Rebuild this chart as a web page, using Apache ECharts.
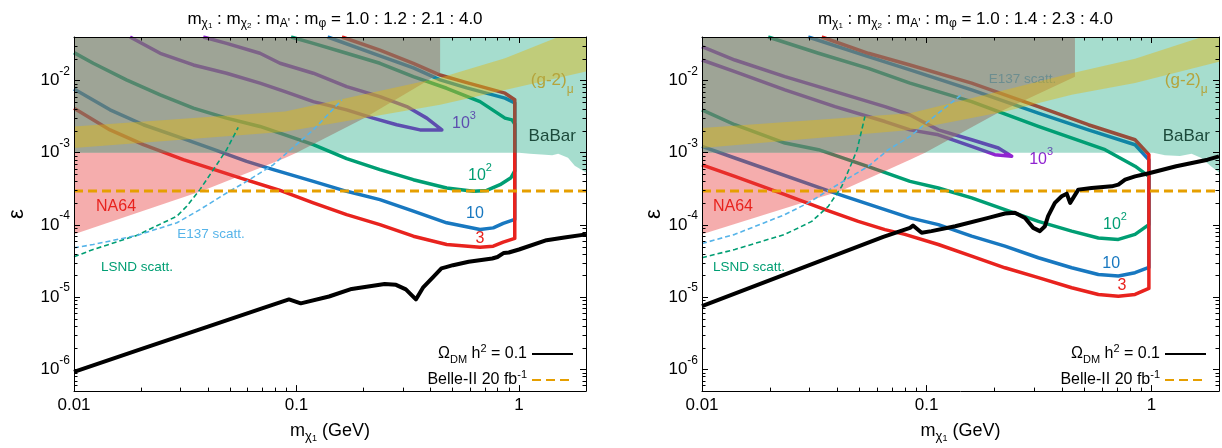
<!DOCTYPE html>
<html>
<head>
<meta charset="utf-8">
<script src="https://cdn.jsdelivr.net/npm/echarts@6.0.0/dist/echarts.min.js"></script>
<style>
html,body{margin:0;padding:0;background:#fff;}
#chart{width:1222px;height:448px;}
</style>
</head>
<body>
<div id="chart"></div>
<script>
// ================= DATA =================
const X_RANGE = [0.01, 2];
const Y_RANGE = [5e-7, 4e-2];
const X_MINOR_TICKS = [0.02,0.03,0.04,0.05,0.06,0.07,0.08,0.09,0.2,0.3,0.4,0.5,0.6,0.7,0.8,0.9];
const Y_MINOR_TICKS = [6e-7,7e-7,8e-7,9e-7,
  2e-6,3e-6,4e-6,5e-6,6e-6,7e-6,8e-6,9e-6,
  2e-5,3e-5,4e-5,5e-5,6e-5,7e-5,8e-5,9e-5,
  2e-4,3e-4,4e-4,5e-4,6e-4,7e-4,8e-4,9e-4,
  2e-3,3e-3,4e-3,5e-3,6e-3,7e-3,8e-3,9e-3,
  2e-2,3e-2];
const MASS_RATIOS = ['1.0 : 1.2 : 2.1 : 4.0', '1.0 : 1.4 : 2.3 : 4.0'];
const BELLE_II = [[0.01, 2.95e-4], [2, 2.95e-4]];
const BABAR_FLOOR = 1e-3;

// ---------- left panel ----------
const L_RELIC = [[0.01,9.2e-7],[0.02,1.9e-6],[0.04,3.9e-6],[0.07,7.0e-6],[0.0925,9.3e-6],[0.1045,8.2e-6],
  [0.14,1.02e-5],[0.177,1.3e-5],[0.249,1.52e-5],[0.28,1.48e-5],[0.31,1.28e-5],[0.344,9.3e-6],[0.37,1.35e-5],
  [0.413,1.92e-5],[0.448,2.5e-5],[0.47,2.6e-5],[0.505,2.77e-5],[0.594,3.09e-5],[0.758,3.43e-5],[0.8,3.6e-5],
  [0.855,4.1e-5],[0.9,4.15e-5],[1.0,4.57e-5],[1.33,6.15e-5],[1.6,6.7e-5],[2.0,7.4e-5]];
const L_C3 = [[0.01,4.14e-3],[0.01452,2.07e-3],[0.0205,1.29e-3],[0.031,8.0e-4],[0.0557,4.47e-4],[0.0844,3.0e-4],
  [0.119,2.02e-4],[0.168,1.39e-4],[0.237,1.01e-4],[0.335,6.98e-5],[0.473,5.36e-5],[0.668,4.92e-5],[0.766,5.08e-5],
  [0.849,5.77e-5],[0.957,6.5e-5],[0.957,5.4e-3],[0.865,6.67e-3],[0.582,9.35e-3],[0.442,1.19e-2],[0.335,1.73e-2],
  [0.237,2.64e-2],[0.16,4e-2]];
const L_C10 = [[0.01,7.6e-3],[0.01452,3.92e-3],[0.0205,2.44e-3],[0.029,1.68e-3],[0.0409,1.16e-3],[0.0597,7.6e-4],
  [0.0787,5.82e-4],[0.119,4.01e-4],[0.168,2.92e-4],[0.237,2.24e-4],[0.335,1.55e-4],[0.473,1.07e-4],[0.668,8.64e-5],
  [0.766,9.1e-5],[0.849,1.05e-4],[0.957,1.19e-4],[0.957,4.9e-3],[0.865,5.7e-3],[0.582,7.9e-3],[0.442,1.02e-2],
  [0.335,1.49e-2],[0.237,2.19e-2],[0.138,4e-2]];
const L_C100 = [[0.01,2.43e-2],[0.0122,1.73e-2],[0.0172,1.02e-2],[0.0244,6.32e-3],[0.0344,4.14e-3],[0.0485,3.01e-3],
  [0.0685,2.31e-3],[0.0888,1.77e-3],[0.119,1.29e-3],[0.168,8.26e-4],[0.237,5.82e-4],[0.335,4.23e-4],[0.473,3.25e-4],
  [0.624,2.92e-4],[0.716,3.0e-4],[0.822,3.61e-4],[0.92,4.5e-4],[0.957,5.6e-4],[0.957,2.5e-3],[0.93,2.85e-3],
  [0.865,3.01e-3],[0.668,5.1e-3],[0.473,7.8e-3],[0.335,1.13e-2],[0.237,1.73e-2],[0.168,2.38e-2],[0.119,3.27e-2],
  [0.0945,4e-2]];
const L_C1000 = [[0.01786,4e-2],[0.0244,2.38e-2],[0.0344,1.64e-2],[0.0485,1.26e-2],[0.0685,9.2e-3],[0.0888,7.0e-3],
  [0.119,5.1e-3],[0.168,3.92e-3],[0.221,3.01e-3],[0.282,2.44e-3],[0.359,2.07e-3],[0.45,2.07e-3],[0.385,3.01e-3],
  [0.313,4.35e-3],[0.237,5.98e-3],[0.168,8.24e-3],[0.119,1.26e-2],[0.0843,1.73e-2],[0.0685,2.38e-2],[0.0485,3.27e-2],
  [0.0381,4e-2]];
const L_E137 = [[0.01,4.82e-5],[0.0122,5.36e-5],[0.0191,7.14e-5],[0.029,1.07e-4],[0.0368,1.63e-4],[0.0485,2.77e-4],
  [0.0597,4.01e-4],[0.0787,6.82e-4],[0.0904,9.9e-4],[0.119,2.07e-3],[0.16,5.4e-3]];
const L_LSND = [[0.01,3.62e-5],[0.0122,4.57e-5],[0.0191,7.14e-5],[0.029,1.32e-4],[0.0321,1.81e-4],[0.0368,3.08e-4],
  [0.0423,5.82e-4],[0.0485,1.1e-3],[0.0547,2.24e-3]];
const L_NA64 = [[0.01,7.4e-5],[0.0381,2.99e-4],[0.0888,8.45e-4],[0.1,1e-3],[0.203,3.04e-3],[0.442,1.26e-2],[0.442,4e-2]];
const L_BABAR = [[0.01,1e-3],[1.0,1e-3],[1.12,9.7e-4],[1.31,9.4e-4],[1.41,9.2e-4],[1.5,9.7e-4],[1.66,8.5e-4],
  [1.78,6.6e-4],[2.0,5.3e-4]];
const L_G2_UP = [[0.01,2.31e-3],[0.0888,3.72e-3],[0.442,1.09e-2],[0.865,2.03e-2],[1.5,4e-2],[2.0,5.3e-2]];
const L_G2_LO = [[0.01,1.16e-3],[0.0888,1.95e-3],[0.442,4.6e-3],[0.865,7.4e-3],[2.0,1.33e-2]];
const L_LABELS = [
  ['10^3',[0.566,2.5e-3]],['10^2',[0.668,4.8e-4]],['10',[0.634,1.44e-4]],['3',[0.668,6.5e-5]],
  ['NA64',[0.01545,1.77e-4]],['E137 scatt.',[0.0413,7.4e-5]],['LSND scatt.',[0.0192,2.62e-5]],
  ['(g-2)',[1.41,9.9e-3]],['BaBar',[1.41,1.66e-3]]];

// ---------- right panel ----------
const R_RELIC = [[0.01,7.5e-6],[0.0641,6.84e-5],[0.0843,9.1e-5],[0.0869,9.8e-5],[0.095,7.8e-5],[0.105,8.2e-5],
  [0.134,9.6e-5],[0.188,1.25e-4],[0.223,1.44e-4],[0.247,1.47e-4],[0.274,1.25e-4],[0.298,9.1e-5],[0.319,8.2e-5],
  [0.336,9.6e-5],[0.347,1.32e-4],[0.372,2.02e-4],[0.399,2.49e-4],[0.42,2.71e-4],[0.435,2.02e-4],[0.449,2.37e-4],
  [0.473,3.08e-4],[0.542,3.25e-4],[0.666,3.42e-4],[0.713,3.61e-4],[0.764,4.23e-4],[0.846,4.7e-4],[0.975,5.2e-4],
  [1.29,6.5e-4],[1.78,8.0e-4],[2.0,8.9e-4]];
const R_C3 = [[0.01,6.8e-4],[0.014,4.7e-4],[0.0234,2.63e-4],[0.0353,1.63e-4],[0.0496,1.12e-4],[0.0652,8.6e-5],
  [0.080,7.4e-5],[0.1127,5.36e-5],[0.1585,3.7e-5],[0.223,2.55e-5],[0.314,1.86e-5],[0.442,1.35e-5],[0.581,1.09e-5],
  [0.713,1.03e-5],[0.846,1.09e-5],[0.975,1.32e-5],[0.975,9.4e-4],[0.846,1.51e-3],[0.524,2.44e-3],[0.314,4.35e-3],
  [0.1585,9.2e-3],[0.0843,1.64e-2],[0.055,2.38e-2],[0.0341,4e-2]];
const R_C10 = [[0.01,1.22e-3],[0.014,8.45e-4],[0.0353,3.08e-4],[0.0432,2.49e-4],[0.0652,1.63e-4],[0.0843,1.25e-4],
  [0.1127,1.01e-4],[0.1585,6.98e-5],[0.223,5.08e-5],[0.314,3.51e-5],[0.442,2.55e-5],[0.581,2.06e-5],[0.713,1.96e-5],
  [0.846,2.18e-5],[0.975,2.58e-5],[0.975,8.0e-4],[0.846,1.29e-3],[0.524,2.07e-3],[0.314,3.53e-3],[0.1585,7.4e-3],
  [0.0843,1.4e-2],[0.055,2.14e-2],[0.0297,4e-2]];
const R_C100 = [[0.01,3.92e-3],[0.014,2.44e-3],[0.0234,1.36e-3],[0.033,1.1e-3],[0.055,6.4e-4],[0.0843,4.01e-4],
  [0.1127,3.25e-4],[0.1585,2.37e-4],[0.223,1.63e-4],[0.314,1.12e-4],[0.442,8.2e-5],[0.581,6.6e-5],[0.713,6.3e-5],
  [0.846,7.4e-5],[0.975,1.01e-4],[0.975,4.7e-4],[0.846,6.5e-4],[0.622,1.1e-3],[0.314,2.31e-3],[0.1585,5.1e-3],
  [0.0843,9.2e-3],[0.055,1.47e-2],[0.033,2.38e-2],[0.0197,4e-2]];
const R_C1000 = [[0.01,2.94e-2],[0.014,1.92e-2],[0.0234,1.13e-2],[0.0391,7.0e-3],[0.0652,4.35e-3],[0.0843,3.33e-3],
  [0.1127,2.07e-3],[0.1585,1.51e-3],[0.2085,1.16e-3],[0.239,8.9e-4],[0.201,9.4e-4],[0.1585,1.22e-3],[0.1127,1.77e-3],
  [0.0843,2.07e-3],[0.0652,2.7e-3],[0.0391,4.35e-3],[0.0234,7.4e-3],[0.014,1.33e-2],[0.01,1.92e-2]];
const R_E137 = [[0.01,5.53e-5],[0.014,7.4e-5],[0.0234,1.39e-4],[0.0297,2.02e-4],[0.0391,3.43e-4],[0.055,6.5e-4],
  [0.0675,1.1e-3],[0.0843,1.68e-3],[0.1127,3.53e-3],[0.1455,6.67e-3]];
const R_LSND = [[0.01,3.51e-5],[0.014,4.57e-5],[0.0234,7.4e-5],[0.0308,1.12e-4],[0.0365,1.81e-4],[0.0419,3.43e-4],
  [0.0464,7.2e-4],[0.049,1.1e-3],[0.0531,3.17e-3]];
const R_NA64 = [[0.01,7.4e-5],[0.0419,2.99e-4],[0.0843,8.0e-4],[0.0983,1e-3],[0.212,3.68e-3],[0.457,1.13e-2],[0.457,4e-2]];
const R_BABAR = [[0.01,1e-3],[1.02,1e-3],[1.15,9.2e-4],[1.34,9.0e-4],[1.51,9.7e-4],[1.66,8.5e-4],[1.83,6.6e-4],[2.0,5.3e-4]];
const R_G2_UP = [[0.01,2.2e-3],[0.0843,3.53e-3],[0.223,7.4e-3],[0.442,1.26e-2],[0.846,2.0e-2],[1.64,3.9e-2],[2.0,4.8e-2]];
const R_G2_LO = [[0.01,1.16e-3],[0.0843,2.07e-3],[0.223,3.72e-3],[0.442,6.32e-3],[0.846,9.2e-3],[2.0,1.81e-2]];
const R_LABELS = [
  ['10^3',[0.323,8.0e-4]],['10^2',[0.689,1.0e-4]],['10',[0.663,2.93e-5]],['3',[0.74,1.43e-5]],
  ['NA64',[0.01374,1.82e-4]],['E137 scatt.',[0.267,1.05e-2]],['LSND scatt.',[0.0162,2.62e-5]],
  ['(g-2)',[1.43,9.9e-3]],['BaBar',[1.43,1.66e-3]]];

// ================= STYLE / LAYOUT =================
const FONT = '"Liberation Sans", Arial, Helvetica, sans-serif';
const C = {red:'#e8231e', blue:'#1878c0', green:'#009e73', purple:'#9024d0', sky:'#56b4e9', orange:'#e69f00',
  teal:'rgba(0,158,115,0.35)', gray:'rgba(151,117,104,0.55)', pink:'rgba(232,60,60,0.42)', band:'rgba(225,185,20,0.45)'};
const GRIDS = [{left:74, right:636, top:37, bottom:56}, {left:702, right:3, top:37, bottom:56}];
const W = 1222, H = 448;
const LABEL_STYLE = {
  '10^3': {color:C.purple, size:16, under:true, text:'10{sup|3}'},
  '10^2': {color:C.green, size:16, under:true, text:'10{sup|2}'},
  '10':   {color:C.blue, size:16, under:true, text:'10'},
  '3':    {color:C.red, size:16, under:true, text:'3'},
  'NA64': {color:C.red, size:16, under:false, text:'NA64'},
  'E137 scatt.': {color:C.sky, size:13.5, under:false, text:'E137 scatt.'},
  'LSND scatt.': {color:C.green, size:13.5, under:false, text:'LSND scatt.'},
  '(g-2)': {color:'#b5a43c', size:17, under:false, text:'(g-2){sub|μ}'},
  'BaBar': {color:'#1c4a3b', size:17, under:false, text:'BaBar'}
};
function richFor(size, color){
  const s = Math.round(size*0.7);
  return {
    sup:{fontSize:s, fontFamily:FONT, fill:color, color:color, verticalAlign:'top', lineHeight:s},
    sub:{fontSize:s, fontFamily:FONT, fill:color, color:color, verticalAlign:'bottom', lineHeight:s}
  };
}

// ================= BUILD =================
const xAxes = [], yAxes = [], series = [], titles = [], legends = [];
function fmtX(v){ return String(parseFloat(v.toPrecision(3))); }
function fmtY(v){ return '10{sup|' + Math.round(Math.log10(v)) + '}'; }

function lineS(i, name, data, color, width, type, z){
  return {type:'line', name, xAxisIndex:2*i, yAxisIndex:2*i, data, symbol:'none', showSymbol:false,
    lineStyle:{color, width, type: type || 'solid', cap:'butt', join:'round'}, itemStyle:{color}, z, silent:true, animation:false};
}
function polyS(i, pts, fill, z){
  return {type:'custom', xAxisIndex:2*i, yAxisIndex:2*i, coordinateSystem:'cartesian2d', data:pts, clip:true, z,
    silent:true, animation:false,
    renderItem:(params, api) => {
      if (params.dataIndex !== 0) return null;
      return {type:'polygon', shape:{points: pts.map(p => api.coord(p))}, style:{fill}};
    }};
}
function textS(i, items, z){
  return {type:'custom', xAxisIndex:2*i, yAxisIndex:2*i, coordinateSystem:'cartesian2d', data:items.map(a => a[1]),
    clip:false, z, silent:true, animation:false,
    renderItem:(params, api) => {
      const it = items[params.dataIndex];
      const st = LABEL_STYLE[it[0]];
      const p = api.coord(it[1]);
      return {type:'text', x:p[0], y:p[1], style:{text:st.text, fill:st.color, fontSize:st.size, fontFamily:FONT,
        align:'center', verticalAlign:'middle', lineHeight:Math.round(st.size*1.7), rich:richFor(st.size, st.color)}};
    }};
}
function minorTicks(i){
  const tick = 3.5;
  return [
    {type:'custom', xAxisIndex:2*i, yAxisIndex:2*i, coordinateSystem:'cartesian2d', clip:false, z:9, silent:true, animation:false,
     data: X_MINOR_TICKS.map(v => [v, Y_RANGE[0]]),
     renderItem:(params, api) => {
       const cs = params.coordSys;
       const x = Math.round(api.coord([api.value(0), api.value(1)])[0]) + 0.5;
       const yb = cs.y + cs.height, yt = cs.y;
       return {type:'group', children:[
         {type:'line', shape:{x1:x, y1:yb, x2:x, y2:yb - tick}, style:{stroke:'#000', lineWidth:1}},
         {type:'line', shape:{x1:x, y1:yt, x2:x, y2:yt + tick}, style:{stroke:'#000', lineWidth:1}}]};
     }},
    {type:'custom', xAxisIndex:2*i, yAxisIndex:2*i, coordinateSystem:'cartesian2d', clip:false, z:9, silent:true, animation:false,
     data: Y_MINOR_TICKS.map(v => [X_RANGE[0], v]),
     renderItem:(params, api) => {
       const cs = params.coordSys;
       const y = Math.round(api.coord([api.value(0), api.value(1)])[1]) + 0.5;
       const xl = cs.x, xr = cs.x + cs.width;
       return {type:'group', children:[
         {type:'line', shape:{x1:xl, y1:y, x2:xl + tick, y2:y}, style:{stroke:'#000', lineWidth:1}},
         {type:'line', shape:{x1:xr, y1:y, x2:xr - tick, y2:y}, style:{stroke:'#000', lineWidth:1}}]};
     }}
  ];
}

const PANELS = [
  {relic:L_RELIC, c3:L_C3, c10:L_C10, c100:L_C100, c1000:L_C1000, e137:L_E137, lsnd:L_LSND, na64:L_NA64,
   babar:L_BABAR, g2up:L_G2_UP, g2lo:L_G2_LO, labels:L_LABELS, yNameGap:46},
  {relic:R_RELIC, c3:R_C3, c10:R_C10, c100:R_C100, c1000:R_C1000, e137:R_E137, lsnd:R_LSND, na64:R_NA64,
   babar:R_BABAR, g2up:R_G2_UP, g2lo:R_G2_LO, labels:R_LABELS, yNameGap:37}
];

const axisLine = {show:true, onZero:false, lineStyle:{color:'#000', width:1}};
const majorTick = {show:true, inside:true, length:6, lineStyle:{color:'#000', width:1}};

PANELS.forEach((P, i) => {
  const g = GRIDS[i];
  xAxes.push({gridIndex:i, type:'log', logBase:10, min:X_RANGE[0], max:X_RANGE[1], position:'bottom', z:10,
    axisLine, axisTick:majorTick, splitLine:{show:false}, minorTick:{show:false},
    axisLabel:{formatter:fmtX, fontSize:17, color:'#000', fontFamily:FONT, margin:6, showMaxLabel:false, showMinLabel:true},
    name:'m{sub|χ}{ss|1} (GeV)', nameLocation:'middle', nameGap:27,
    nameTextStyle:{fontSize:18, color:'#000', fontFamily:FONT, lineHeight:24,
      rich:{sub:{fontSize:13, fontFamily:FONT, color:'#000', verticalAlign:'bottom', lineHeight:13},
            ss:{fontSize:9, fontFamily:FONT, color:'#000', verticalAlign:'bottom', lineHeight:8}}}});
  xAxes.push({gridIndex:i, type:'log', logBase:10, min:X_RANGE[0], max:X_RANGE[1], position:'top', z:10,
    axisLine, axisTick:majorTick, splitLine:{show:false}, axisLabel:{show:false}});
  yAxes.push({gridIndex:i, type:'log', logBase:10, min:Y_RANGE[0], max:Y_RANGE[1], position:'left', z:10,
    axisLine, axisTick:majorTick, splitLine:{show:false},
    axisLabel:{formatter:fmtY, fontSize:17, color:'#000', fontFamily:FONT, margin:4, lineHeight:30,
      showMinLabel:false, showMaxLabel:false,
      rich:{sup:{fontSize:12, fontFamily:FONT, color:'#000', verticalAlign:'top', lineHeight:12}}},
    name:'ε', nameLocation:'middle', nameRotate:90, nameGap:P.yNameGap,
    nameTextStyle:{fontSize:22, color:'#000', fontFamily:FONT}});
  yAxes.push({gridIndex:i, type:'log', logBase:10, min:Y_RANGE[0], max:Y_RANGE[1], position:'right', z:10,
    axisLine, axisTick:majorTick, splitLine:{show:false}, axisLabel:{show:false}});

  // contour lines (drawn under the shaded exclusion regions)
  series.push(lineS(i, 'c1000', P.c1000, C.purple, 3.5, 'solid', 2));
  series.push(lineS(i, 'c100', P.c100, C.green, 3.5, 'solid', 2));
  series.push(lineS(i, 'c10', P.c10, C.blue, 3.5, 'solid', 2));
  series.push(lineS(i, 'c3', P.c3, C.red, 3.5, 'solid', 2));
  series.push(textS(i, P.labels.filter(l => LABEL_STYLE[l[0]].under || (i === 1 && l[0] === 'E137 scatt.')), 2));

  // shaded regions
  const babarPoly = P.babar.concat([[X_RANGE[1], Y_RANGE[1]], [X_RANGE[0], Y_RANGE[1]]]);
  const grayPoly = [[X_RANGE[0], BABAR_FLOOR]].concat(P.na64.filter(p => p[1] >= BABAR_FLOOR), [[X_RANGE[0], Y_RANGE[1]]]);
  const pinkPoly = P.na64.filter(p => p[1] <= BABAR_FLOOR).concat([[X_RANGE[0], BABAR_FLOOR]]);
  const bandPoly = P.g2up.concat(P.g2lo.slice().reverse());
  series.push(polyS(i, babarPoly, C.teal, 3));
  series.push(polyS(i, grayPoly, C.gray, 3));
  series.push(polyS(i, pinkPoly, C.pink, 3));
  series.push(polyS(i, bandPoly, C.band, 3));

  // dashed scattering limits, Belle-II, relic line
  series.push(lineS(i, 'lsnd', P.lsnd, C.green, 1.6, [5, 3], 4));
  series.push(lineS(i, 'e137', P.e137, C.sky, 1.6, [5, 3], 4));
  series.push(lineS(i, 'belle', BELLE_II, C.orange, 3, [9, 5], 5));
  series.push(lineS(i, 'relic', P.relic, '#000', 4, 'solid', 5));

  // labels on top
  series.push(textS(i, P.labels.filter(l => !LABEL_STYLE[l[0]].under && !(i === 1 && l[0] === 'E137 scatt.')), 6));
  series.push(...minorTicks(i));

  const cx = g.left + (W - g.left - g.right) / 2;
  titles.push({text:'m{s|χ}{ss|1} : m{s|χ}{ss|2} : m{s|A\'} : m{s|φ} = ' + MASS_RATIOS[i],
    left:cx, top:3, textAlign:'center',
    textStyle:{fontSize:17, fontWeight:'normal', color:'#000', fontFamily:FONT, lineHeight:22,
      rich:{s:{fontSize:12, fontFamily:FONT, color:'#000', verticalAlign:'bottom', lineHeight:12},
            ss:{fontSize:8, fontFamily:FONT, color:'#000', verticalAlign:'bottom', lineHeight:7}}}});
  legends.push({data:['relic','belle'], orient:'vertical', align:'right', right:g.right + 12, top:343, padding:0,
    itemWidth:41, itemHeight:2, itemGap:4, selectedMode:false,
    itemStyle:{opacity:0, borderWidth:0},
    formatter: n => n === 'relic' ? 'Ω{sub|DM} h{sup|2} = 0.1' : 'Belle-II 20 fb{sup|-1}',
    textStyle:{fontSize:16, color:'#000', fontFamily:FONT, lineHeight:22,
      rich:{sub:{fontSize:11, fontFamily:FONT, color:'#000', verticalAlign:'bottom', lineHeight:11},
            sup:{fontSize:11, fontFamily:FONT, color:'#000', verticalAlign:'top', lineHeight:11}}}});
});

const chart = echarts.init(document.getElementById('chart'), null, {renderer:'canvas', width:W, height:H});
chart.setOption({
  backgroundColor:'#fff', animation:false,
  title:titles, legend:legends, tooltip:{show:false},
  grid:GRIDS.map(g => Object.assign({containLabel:false, show:false}, g)),
  xAxis:xAxes, yAxis:yAxes, series
});
</script>
</body>
</html>
